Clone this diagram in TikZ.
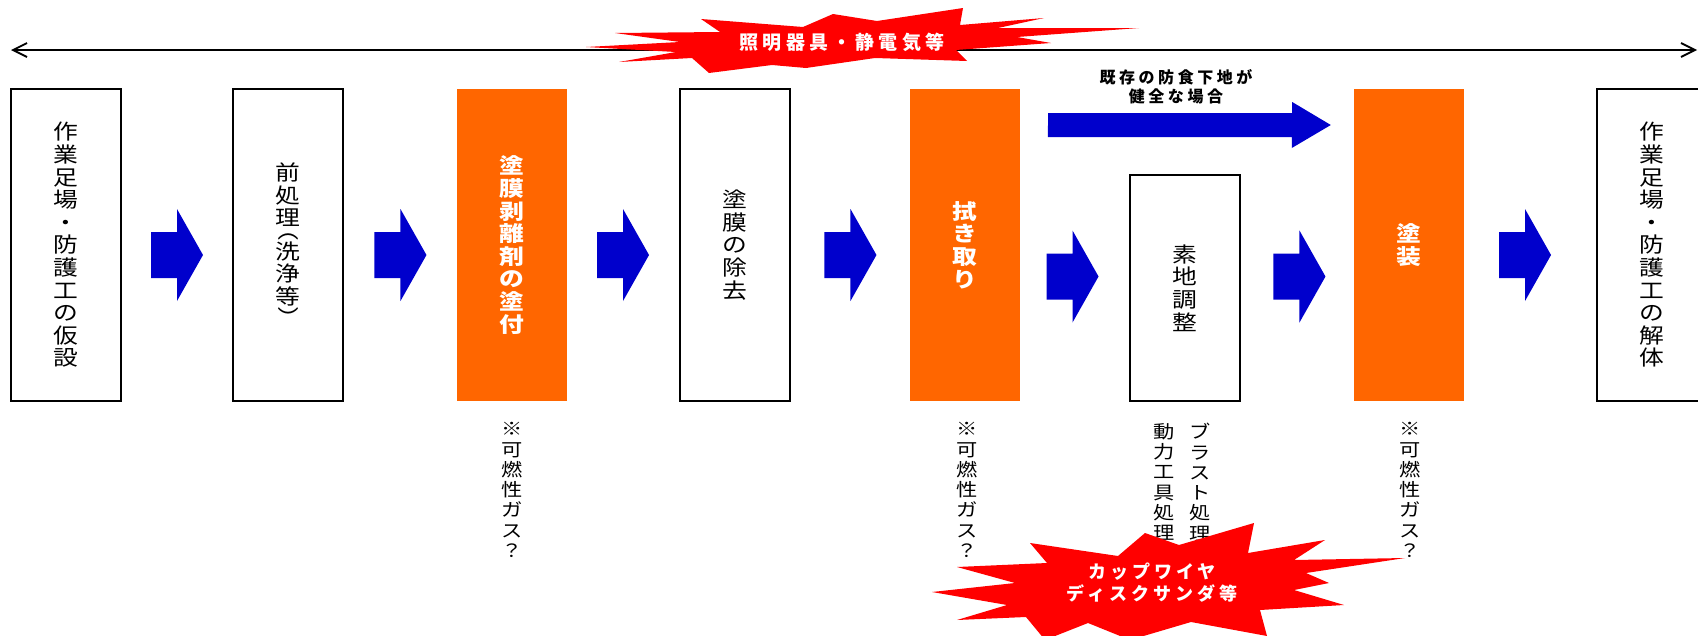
\documentclass[tikz,border=0pt]{standalone}
\usepackage{fontspec}
\usepackage{graphicx}
\newfontfamily\jp{Noto Sans CJK JP}[FakeStretch=1.18]
\newfontfamily\jpls{Noto Sans CJK JP}[LetterSpace=22]
\usetikzlibrary{arrows.meta,calc}
\definecolor{porange}{HTML}{FF6600}
\definecolor{pblue}{HTML}{0000CC}
\definecolor{pred}{HTML}{FF0000}
\newcommand\vparen[1]{\smash{\rotatebox[origin=c]{-90}{#1}}}
\tikzset{
  box/.style={minimum width=110pt, minimum height=312pt, inner sep=0pt, align=center, font=\jp\fontsize{21}{22.6}\selectfont},
  wbox/.style={box, draw=black, line width=2.3pt, fill=white},
  obox/.style={box, fill=porange, text=white, font=\jp\bfseries\fontsize{21}{22.6}\selectfont},
  note/.style={inner sep=0pt, anchor=north, align=center, font=\jp\fontsize{18}{20.3}\selectfont},
  startext/.style={inner sep=0pt, align=center, text=white, font=\jpls\bfseries\fontsize{18}{22}\selectfont},
  barrow/.pic={\fill[pblue] (-26,-23) -- (0,-23) -- (0,-46) -- (26,0) -- (0,46) -- (0,23) -- (-26,23) -- cycle;},
}
\begin{document}
\begin{tikzpicture}[x=1pt,y=-1pt]
\useasboundingbox (0,0) rectangle (1698,635);
% top double arrow
\coordinate (la) at (11,50);
\coordinate (ra) at (1697,50);
\draw[line width=1.8pt, {Straight Barb[length=14pt,width=14pt]}-{Straight Barb[length=14pt,width=14pt]}] (la) -- (ra);
% star 1
\fill[pred] (586,47) -- (680,42) -- (615,33) -- (720,32) -- (701,19) -- (803,27) -- (833,14) -- (877,21) -- (963,8) -- (960,25) -- (1044,18) -- (998,28) -- (1139,28) -- (1017,37) -- (1051,43) -- (956,50) -- (967,61) -- (875,58) -- (806,68) -- (772,65) -- (709,73) -- (692,58) -- (619,62) -- (676,52) -- cycle;
\node[startext, font=\jpls\bfseries\fontsize{19}{22}\selectfont] (s1) at (842,42) {照明器具・静電気等};
% boxes
\node[wbox] (b1) at (66,245) {作\\業\\足\\場\\・\\防\\護\\工\\の\\仮\\設};
\node[wbox] (b2) at (288,245) {前\\処\\理\\[-12pt]\vparen{（}\\洗\\浄\\等\\\vparen{）}};
\node[obox] (b3) at (512,245) {塗\\膜\\剥\\離\\剤\\の\\塗\\付};
\node[wbox] (b4) at (735,245) {塗\\膜\\の\\除\\去};
\node[obox] (b5) at (965,245) {拭\\き\\取\\り};
\node[wbox, minimum height=226pt] (b6) at (1185,288) {素\\地\\調\\整};
\node[obox] (b7) at (1409,245) {塗\\装};
\node[wbox] (b8) at (1652,245) {作\\業\\足\\場\\・\\防\\護\\工\\の\\解\\体};
% block arrows
\path ($(b1.east)!0.5!(b2.west)$) ++(0,10) pic {barrow};
\path ($(b2.east)!0.5!(b3.west)$) ++(0,10) pic {barrow};
\path ($(b3.east)!0.5!(b4.west)$) ++(0,10) pic {barrow};
\path ($(b4.east)!0.5!(b5.west)$) ++(0,10) pic {barrow};
\path ($(b5.east)!0.5!(b6.west)$) ++(-2,10) pic {barrow};
\path ($(b6.east)!0.5!(b7.west)$) ++(2,10) pic {barrow};
\path ($(b7.east)!0.5!(b8.west)$) ++(-5,10) pic {barrow};
% bypass arrow
\coordinate (bas) at ($(b5.east)+(28,-120)$);
\coordinate (bae) at ($(b7.west)+(-23,-120)$);
\fill[pblue] (bas) ++(0,-12) -- ++(244,0) -- ++(0,-11) -- (bae) -- ++(-39,23) -- ++(0,-11) -- ++(-244,0) -- cycle;
\node[inner sep=0pt, align=center, font=\jpls\bfseries\fontsize{16}{19}\selectfont] (cond) at (1176,87) {既存の防食下地が\\健全な場合};
% notes
\node[note] (n3) at ($(b3.south)+(0,21)$) {※\\可\\燃\\性\\ガ\\ス\\？};
\node[note] (n5) at ($(b5.south)+(2,21)$) {※\\可\\燃\\性\\ガ\\ス\\？};
\node[note] (n7) at ($(b7.south)+(1,21)$) {※\\可\\燃\\性\\ガ\\ス\\？};
\node[note] (n6a) at ($(b6.south)+(15,21)$) {ブ\\ラ\\ス\\ト\\処\\理};
\node[note] (n6b) at ($(b6.south)+(-21,21)$) {動\\力\\工\\具\\処\\理};
% star 2
\fill[pred] (932,592) -- (1015,583) -- (957,567) -- (1047,563) -- (1030,543) -- (1118,556) -- (1145,533) -- (1179,545) -- (1254,523) -- (1248,553) -- (1325,540) -- (1294,560) -- (1405,558) -- (1306,573) -- (1329,583) -- (1294,590) -- (1344,605) -- (1260,610) -- (1267,636) -- (1191,622) -- (1130,640) -- (1088,623) -- (1045,640) -- (1026,617) -- (957,620) -- (1007,605) -- cycle;
\node[startext] (s2) at (1152,583) {カップワイヤ\\ディスクサンダ等};
\end{tikzpicture}
\end{document}
